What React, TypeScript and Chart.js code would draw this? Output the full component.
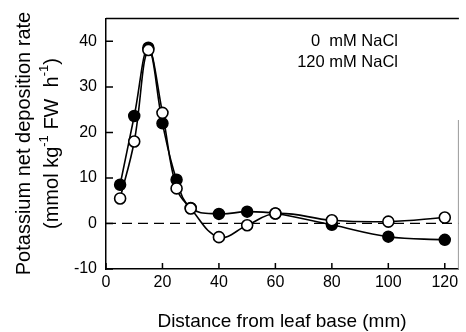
import React, { useEffect, useRef } from "react";
import { Chart, registerables } from "chart.js";

Chart.register(...registerables);

const distances = [5, 10, 15, 20, 25, 30, 40, 50, 60, 80, 100, 120];
const control0mM = [8.5, 23.6, 38.6, 22.0, 9.6, 3.4, 2.1, 2.6, 2.2, -0.3, -2.9, -3.6];
const salt120mM = [5.5, 18.0, 38.1, 24.3, 7.7, 3.3, -3.0, -0.4, 2.2, 0.7, 0.4, 1.3];
const xTicks = [0, 20, 40, 60, 80, 100, 120];
const yTicks = [-10, 0, 10, 20, 30, 40];
const legendLabels = ["0  mM NaCl", "120 mM NaCl"];
const xTitle = "Distance from leaf base (mm)";
const yTitleLine1 = "Potassium net deposition rate";

const FONT = "'Liberation Sans', Arial, Helvetica, sans-serif";

const decorPlugin = {
  id: "decor",
  afterDraw(chart: any) {
    const ctx = chart.ctx;
    const { left, right, top, bottom } = chart.chartArea;
    const xs = chart.scales.x;
    const ys = chart.scales.y;
    ctx.save();
    // top border
    ctx.strokeStyle = "#000";
    ctx.lineWidth = 1.5;
    ctx.beginPath();
    ctx.moveTo(left, top);
    ctx.lineTo(right, top);
    ctx.stroke();
    // right border (faint, partial)
    ctx.strokeStyle = "#9a9a9a";
    ctx.lineWidth = 1;
    ctx.beginPath();
    ctx.moveTo(right - 0.5, 120);
    ctx.lineTo(right - 0.5, bottom);
    ctx.stroke();
    // inward ticks
    ctx.strokeStyle = "#000";
    ctx.lineWidth = 1.5;
    ctx.beginPath();
    for (const v of yTicks) {
      const y = ys.getPixelForValue(v);
      ctx.moveTo(left, y);
      ctx.lineTo(left + 7, y);
    }
    for (const v of xTicks) {
      const x = xs.getPixelForValue(v);
      ctx.moveTo(x, bottom);
      ctx.lineTo(x, bottom - 6);
    }
    ctx.stroke();

    ctx.fillStyle = "#000";
    // legend text
    ctx.font = `16.5px ${FONT}`;
    ctx.textAlign = "right";
    ctx.textBaseline = "middle";
    ctx.fillText(legendLabels[0], 398, 41);
    ctx.fillText(legendLabels[1], 398, 62);

    // x title
    ctx.font = `19px ${FONT}`;
    ctx.textAlign = "center";
    ctx.textBaseline = "alphabetic";
    ctx.fillText(xTitle, 282, 327);

    // y title (rotated)
    ctx.translate(0, 0);
    ctx.save();
    ctx.translate(24, 143.5);
    ctx.rotate(-Math.PI / 2);
    ctx.font = `20px ${FONT}`;
    ctx.textAlign = "center";
    ctx.textBaseline = "middle";
    ctx.fillText(yTitleLine1, 0, 0);
    ctx.restore();

    ctx.save();
    ctx.translate(52, 143.5);
    ctx.rotate(-Math.PI / 2);
    const big = `20px ${FONT}`;
    const small = `13px ${FONT}`;
    const parts: [string, boolean][] = [
      ["(mmol kg", false],
      ["-1", true],
      [" FW  h", false],
      ["-1", true],
      [")", false],
    ];
    let total = 0;
    for (const [t, s] of parts) {
      ctx.font = s ? small : big;
      total += ctx.measureText(t).width;
    }
    let x = -total / 2;
    ctx.textAlign = "left";
    ctx.textBaseline = "middle";
    for (const [t, s] of parts) {
      ctx.font = s ? small : big;
      ctx.fillText(t, x, s ? -8 : 0);
      x += ctx.measureText(t).width;
    }
    ctx.restore();
    ctx.restore();
  },
};

export default function App() {
  const ref = useRef<HTMLCanvasElement>(null);
  useEffect(() => {
    if (!ref.current) return;
    const chart = new Chart(ref.current, {
      type: "line",
      data: {
        datasets: [
          {
            label: "zero",
            data: [
              { x: 0, y: 0 },
              { x: 125, y: 0 },
            ],
            borderColor: "#000",
            borderWidth: 1.3,
            borderDash: [10, 6],
            pointRadius: 0,
            order: 3,
          },
          {
            label: legendLabels[0],
            data: distances.map((d, i) => ({ x: d, y: control0mM[i] })),
            borderColor: "#000",
            borderWidth: 1.6,
            tension: 0.4,
            pointRadius: 5.5,
            pointBackgroundColor: "#000",
            pointBorderColor: "#000",
            pointBorderWidth: 1.5,
            order: 2,
          },
          {
            label: legendLabels[1],
            data: distances.map((d, i) => ({ x: d, y: salt120mM[i] })),
            borderColor: "#000",
            borderWidth: 1.6,
            tension: 0.4,
            pointRadius: 5.5,
            pointBackgroundColor: "#fff",
            pointBorderColor: "#000",
            pointBorderWidth: 1.6,
            order: 1,
          },
        ],
      },
      options: {
        responsive: false,
        animation: false,
        devicePixelRatio: 1,
        layout: { padding: { left: 0, top: 14, right: 1, bottom: 0 } },
        plugins: { legend: { display: false }, tooltip: { enabled: false } },
        scales: {
          x: {
            type: "linear",
            min: 0,
            max: 125,
            afterFit: (s: any) => {
              s.height = 63;
            },
            afterBuildTicks: (s: any) => {
              s.ticks = xTicks.map((v) => ({ value: v }));
            },
            grid: { display: false, drawTicks: false },
            border: { display: true, color: "#000", width: 1.5 },
            ticks: {
              color: "#000",
              font: { family: FONT, size: 16 },
              padding: 4,
              maxRotation: 0,
            },
          },
          y: {
            type: "linear",
            min: -10,
            max: 45,
            afterFit: (s: any) => {
              s.width = 106;
            },
            afterBuildTicks: (s: any) => {
              s.ticks = yTicks.map((v) => ({ value: v }));
            },
            grid: { display: false, drawTicks: false },
            border: { display: true, color: "#000", width: 1.5 },
            ticks: {
              color: "#000",
              font: { family: FONT, size: 16 },
              padding: 9,
            },
          },
        },
      },
      plugins: [decorPlugin],
    });
    return () => chart.destroy();
  }, []);
  return (
    <div style={{ position: "absolute", left: 0, top: 0, width: 466, height: 332, background: "#fff" }}>
      <canvas ref={ref} width={466} height={332} style={{ display: "block" }} />
    </div>
  );
}
